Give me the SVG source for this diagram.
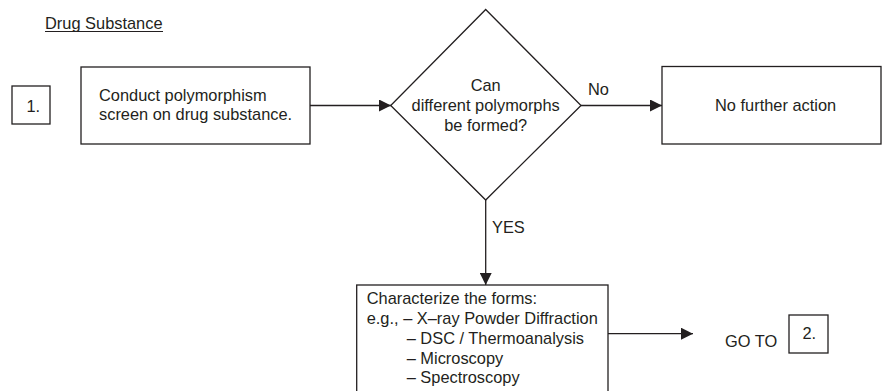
<svg xmlns="http://www.w3.org/2000/svg" width="883" height="391" viewBox="0 0 883 391">
<defs>
<marker id="arr" viewBox="0 0 12 12" refX="12" refY="6" markerWidth="12" markerHeight="12" markerUnits="userSpaceOnUse" orient="auto">
<path d="M0,0 L12,6 L0,12 Z" fill="#231f20"/>
</marker>
</defs>
<style>
text{font-family:"Liberation Sans",Arial,sans-serif;font-size:16.4px;fill:#231f20}
.box{fill:#fff;stroke:#231f20;stroke-width:1.3}
.ln{fill:none;stroke:#231f20;stroke-width:1.3;marker-end:url(#arr)}
.c{text-anchor:middle}
</style>
<rect width="883" height="391" fill="#fff"/>
<g id="title">
<text x="45" y="29">Drug Substance</text>
<line x1="45" y1="31.5" x2="163" y2="31.5" stroke="#231f20" stroke-width="1"/>
</g>
<g id="connectors">
<line class="ln" x1="310" y1="105.5" x2="391" y2="105.5"/>
<line class="ln" x1="581" y1="105.5" x2="662" y2="105.5"/>
<line class="ln" x1="485.7" y1="200" x2="485.7" y2="285"/>
<line class="ln" x1="608" y1="333.7" x2="693" y2="333.7"/>
<text x="588" y="95">No</text>
<text x="492" y="233">YES</text>
</g>
<g id="step1">
<rect class="box" x="12" y="86" width="38" height="38"/>
<text x="26.5" y="111.5">1.</text>
</g>
<g id="conduct">
<rect class="box" x="81" y="67" width="229" height="77"/>
<text x="99" y="101">Conduct polymorphism</text>
<text x="99" y="120">screen on drug substance.</text>
</g>
<g id="decision">
<polygon class="box" points="485.7,9.5 581,105.5 485.7,200 390.7,105.5"/>
<text class="c" x="485.7" y="91">Can</text>
<text class="c" x="485.7" y="111">different polymorphs</text>
<text class="c" x="485.7" y="131">be formed?</text>
</g>
<g id="nofurther">
<rect class="box" x="662" y="66.5" width="219" height="77.5"/>
<text x="715" y="111">No further action</text>
</g>
<g id="characterize">
<rect class="box" x="356.7" y="285" width="251.3" height="115"/>
<text x="366.7" y="304">Characterize the forms:</text>
<text x="366.7" y="324">e.g., – X–ray Powder Diffraction</text>
<text x="406.7" y="344">– DSC / Thermoanalysis</text>
<text x="406.7" y="363.5">– Microscopy</text>
<text x="406.7" y="383">– Spectroscopy</text>
</g>
<g id="goto">
<text x="725" y="347">GO TO</text>
</g>
<g id="step2">
<rect class="box" x="789" y="315" width="39" height="38"/>
<text x="802.5" y="339">2.</text>
</g>
</svg>
